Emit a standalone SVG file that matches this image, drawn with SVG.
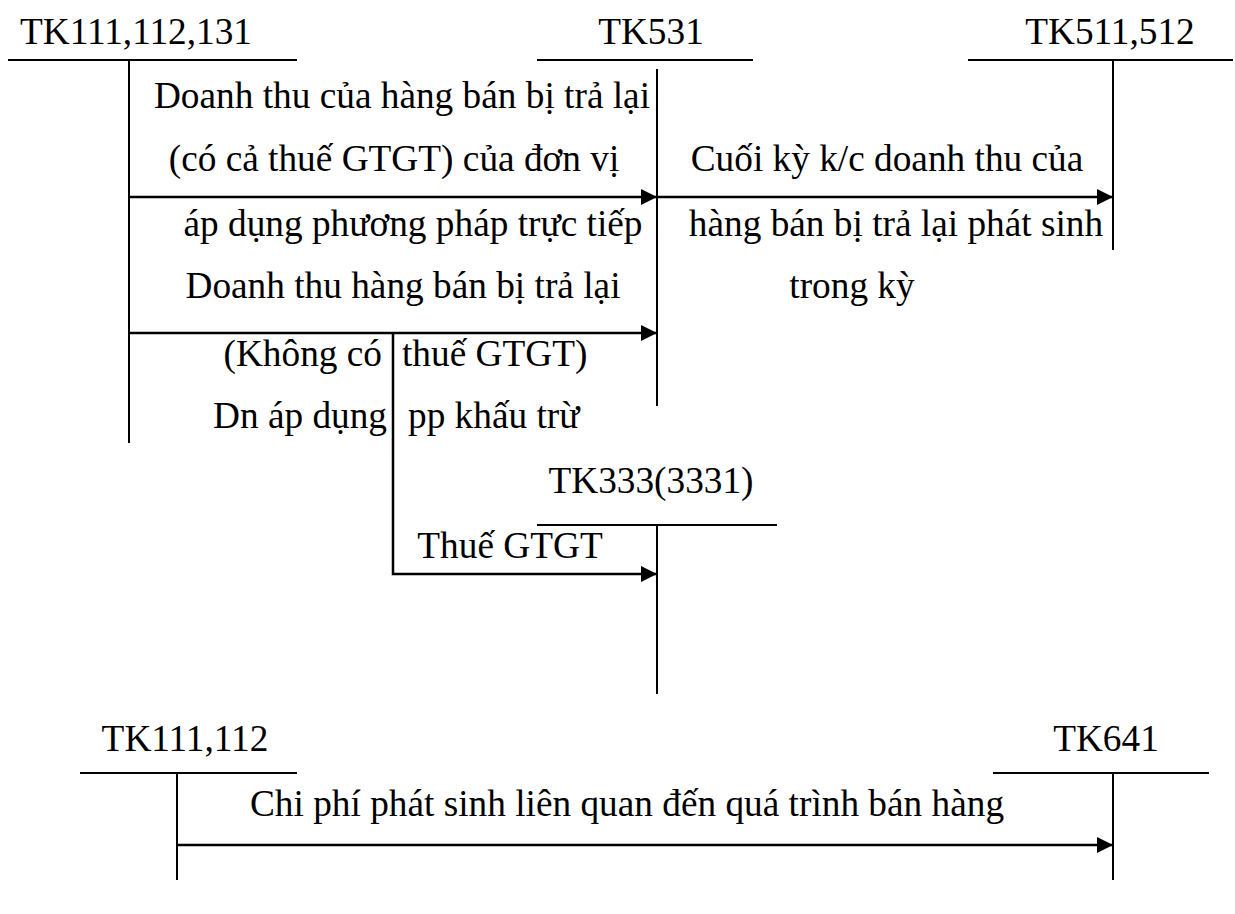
<svg xmlns="http://www.w3.org/2000/svg" width="1235" height="914" viewBox="0 0 1235 914">
  <style>
    text { font-family: "Liberation Serif", "Times New Roman", serif; font-size: 37.3px; fill: #000; }
    .t { stroke: #000; stroke-width: 2; fill: none; }
    .flow { stroke: #000; stroke-width: 2.5; fill: none; marker-end: url(#head); }
    .mid { text-anchor: middle; }
    .end { text-anchor: end; }
  </style>
  <defs>
    <marker id="head" markerUnits="userSpaceOnUse" markerWidth="18" markerHeight="18" refX="16" refY="8" orient="auto">
      <path d="M0 0 L16 8 L0 16 Z" fill="#000"/>
    </marker>
  </defs>
  <rect width="1235" height="914" fill="#fff"/>

  <!-- T-accounts -->
  <g id="tk111-112-131">
    <text class="mid" x="136" y="44">TK111,112,131</text>
    <path class="t" d="M8 60 H297 M129 60 V443"/>
  </g>
  <g id="tk531">
    <text class="mid" x="651" y="44">TK531</text>
    <path class="t" d="M537 60 H753 M657 69 V406"/>
  </g>
  <g id="tk511-512">
    <text class="mid" x="1110" y="44">TK511,512</text>
    <path class="t" d="M968 60 H1233 M1113 60 V250"/>
  </g>
  <g id="tk333">
    <text class="mid" x="651" y="493">TK333(3331)</text>
    <path class="t" d="M537 525 H777 M657 525 V694"/>
  </g>
  <g id="tk111-112">
    <text class="mid" x="185" y="751">TK111,112</text>
    <path class="t" d="M80 773 H297 M177 773 V880"/>
  </g>
  <g id="tk641">
    <text class="mid" x="1106" y="751">TK641</text>
    <path class="t" d="M993 773 H1209 M1113 773 V880"/>
  </g>

  <!-- connectors -->
  <g id="connectors">
    <path class="flow" d="M129 197 H657"/>
    <path class="flow" d="M129 333 H657"/>
    <path class="flow" d="M393 333 V574 H657"/>
    <path class="flow" d="M657 197 H1113"/>
    <path class="flow" d="M177 845 H1113"/>
  </g>

  <!-- entry labels -->
  <g id="labels">
    <text class="mid" x="402" y="108">Doanh thu của hàng bán bị trả lại</text>
    <text class="mid" x="394" y="171">(có cả thuế GTGT) của đơn vị</text>
    <text class="mid" x="413" y="236">áp dụng phương pháp trực tiếp</text>
    <text class="mid" x="403" y="298">Doanh thu hàng bán bị trả lại</text>
    <text class="end" x="382" y="366">(Không có</text>
    <text x="402" y="366">thuế GTGT)</text>
    <text class="end" x="387" y="428">Dn áp dụng</text>
    <text x="408" y="428">pp khấu trừ</text>
    <text class="mid" x="510" y="558">Thuế GTGT</text>
    <text class="mid" x="887" y="171">Cuối kỳ k/c doanh thu của</text>
    <text class="mid" x="896" y="236">hàng bán bị trả lại phát sinh</text>
    <text class="mid" x="852" y="298">trong kỳ</text>
    <text class="mid" x="627" y="816">Chi phí phát sinh liên quan đến quá trình bán hàng</text>
  </g>
</svg>
